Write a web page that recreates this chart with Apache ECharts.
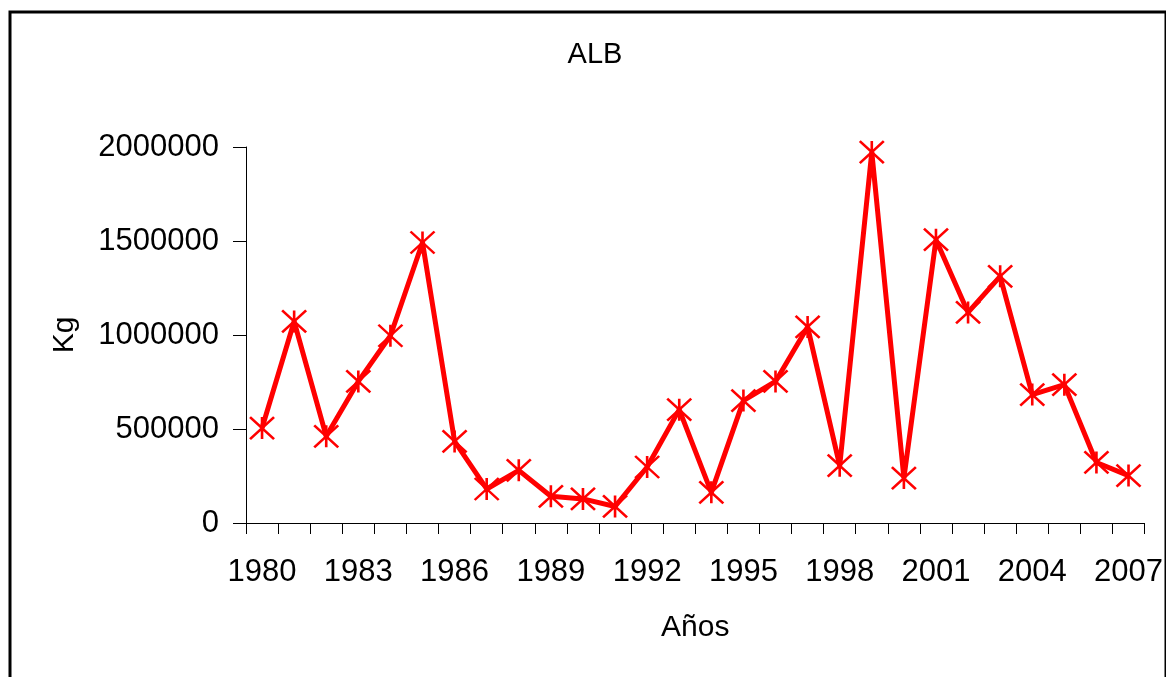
<!DOCTYPE html>
<html><head><meta charset="utf-8">
<script src="https://cdn.jsdelivr.net/npm/echarts@6/dist/echarts.min.js"></script>
<style>html,body{margin:0;padding:0;background:#fff}#c{width:1166px;height:677px}</style>
</head><body><div id="c"></div>
<script>
const years = ['1980','1981','1982','1983','1984','1985','1986','1987','1988','1989','1990','1991','1992','1993','1994','1995','1996','1997','1998','1999','2000','2001','2002','2003','2004','2005','2006','2007'];
const kg = [505000,1072000,461000,753000,996000,1492000,434000,181000,280000,142000,128000,88000,298000,603000,163000,651000,753000,1043000,305000,1973000,239000,1507000,1120000,1312000,683000,736000,322000,252000];
const titleText = 'ALB';
const yName = 'Kg';
const xName = 'Años';

const font = 'Liberation Sans, Arial, sans-serif';
const chart = echarts.init(document.getElementById('c'));
chart.setOption({
  animation: false,
  backgroundColor: '#fff',
  title: { text: titleText, left: 590, textAlign: 'center', top: 35, textStyle: { fontFamily: font, fontSize: 29, fontWeight: 'normal', color: '#000' } },
  graphic: [{ type: 'rect', shape: { x: 10, y: 12, width: 1156, height: 700 }, style: { fill: 'none', stroke: '#000', lineWidth: 3 }, silent: true }],
  grid: { left: 246, right: 21, top: 147, bottom: 154 },
  xAxis: {
    type: 'category', data: years, boundaryGap: true,
    name: xName, nameLocation: 'middle', nameGap: 90,
    nameTextStyle: { fontFamily: font, fontSize: 30, color: '#000' },
    axisLine: { lineStyle: { color: '#000', width: 1 } },
    axisTick: { show: true, interval: 0, length: 11, lineStyle: { color: '#000' } },
    axisLabel: { interval: 2, margin: 34, fontFamily: font, fontSize: 31, color: '#000' },
    splitLine: { show: false }
  },
  yAxis: {
    type: 'value', min: 0, max: 2000000, interval: 500000,
    name: yName, nameLocation: 'middle', nameGap: 166, nameRotate: 90,
    nameTextStyle: { fontFamily: font, fontSize: 30, color: '#000' },
    axisLine: { show: true, lineStyle: { color: '#000', width: 1 } },
    axisTick: { show: true, length: 13, lineStyle: { color: '#000' } },
    axisLabel: { margin: 27, fontFamily: font, fontSize: 31, color: '#000', formatter: v => String(v) },
    splitLine: { show: false }
  },
  series: [{
    type: 'line', data: kg,
    symbol: 'path://M0,0 L20,20 M20,0 L0,20 M10,0 L10,20',
    symbolSize: [24, 22], showAllSymbol: true,
    lineStyle: { color: '#ff0000', width: 5 },
    itemStyle: { color: '#ff0000', borderColor: '#ff0000', borderWidth: 2.5 }
  }]
});
</script></body></html>
